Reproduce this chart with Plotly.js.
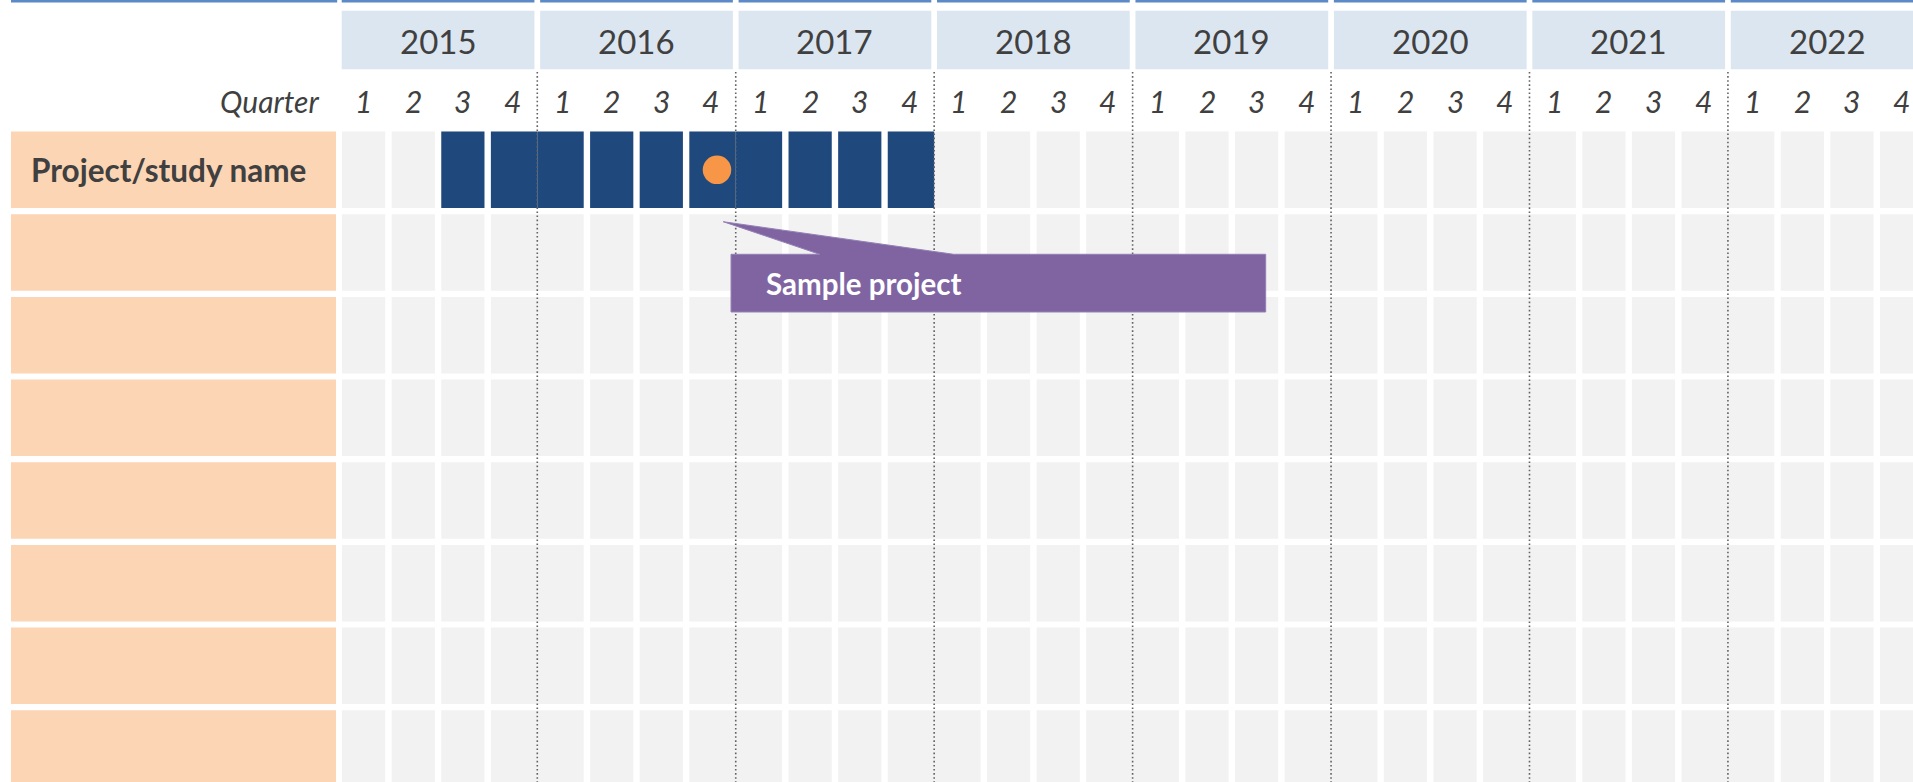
<!DOCTYPE html>
<html><head><meta charset="utf-8">
<script src="https://cdn.plot.ly/plotly-3.0.1.min.js"></script>
<style>html,body{margin:0;padding:0;background:#fff;overflow:hidden}#chart{width:1913px;height:782px}</style>
</head><body><div id="chart"></div>
<script>
// ---------- data ----------
const years = [2015, 2016, 2017, 2018, 2019, 2020, 2021, 2022];
const quarterLabels = ['1', '2', '3', '4'];
const quarterHeader = 'Quarter';
const rowLabels = ['Project/study name', '', '', '', '', '', '', ''];
const taskRows = [0];
const taskStart = ['2015-Q3'];
const taskEnd = ['2017-Q4'];
const milestoneRows = [0];
const milestoneDates = ['2016-11-27'];
const milestoneLabels = ['Sample project'];

// ---------- layout constants ----------
const W = 1913, H = 782;
const X0 = 338.85, P = 49.61;   // px of first quarter boundary, px per quarter
const Y0 = 169.8, RP = 82.67;   // px of first row centre, px per row
const xd = px => (px - X0) / P;
const yd = py => (py - Y0) / RP;
const HG = 3.2 / P;             // half white gap between quarter cells
const HH = 38.25 / RP;          // half row height
const TXT = '#404040';
const FONT = 'Lato';

const nQ = years.length * 4;
const qIndex = s => { const [y, q] = s.split('-Q'); return (+y - years[0]) * 4 + (+q - 1); };
const dateToQ = s => { const [y, m, d] = s.split('-').map(Number); return (y - years[0]) * 4 + (m - 1) / 3 + (d - 1) / 90; };

function cellSpan(q) {
  const left = q + ((q % 4 === 0 && q > 0) ? 0 : HG);
  const right = q + 1 - ((q % 4 === 3) ? 0 : HG);
  return [left, right];
}

// grey grid cells
const gx = [], gw = [], gb = [], gy = [];
rowLabels.forEach((_, r) => {
  for (let q = 0; q < nQ; q++) {
    const [a, b] = cellSpan(q);
    gx.push((a + b) / 2); gw.push(b - a); gb.push(r - HH); gy.push(2 * HH);
  }
});

// task cells
const tx = [], tw = [], tb = [], ty = [];
taskRows.forEach((r, i) => {
  for (let q = qIndex(taskStart[i]); q <= qIndex(taskEnd[i]); q++) {
    const [a, b] = cellSpan(q);
    tx.push((a + b) / 2); tw.push(b - a); tb.push(r - HH); ty.push(2 * HH);
  }
});

// label column
const lxL = xd(11), lxR = xd(336);
const px_ = rowLabels.map(() => (lxL + lxR) / 2);
const pw_ = rowLabels.map(() => lxR - lxL);
const pb_ = rowLabels.map((_, r) => r - HH);
const py_ = rowLabels.map(() => 2 * HH);

// year header boxes
const YG = 2.85 / P;
const yTop = yd(10.7), yBot = yd(69.3);
const yhx = years.map((_, i) => i * 4 + 2);
const yhw = years.map(() => 4 - 2 * YG);
const yhb = years.map(() => yTop);
const yhy = years.map(() => yBot - yTop);

// top blue rule segments
const lineY = yd(1.2);
const tlx = [lxL, xd(337.2), null], tly = [lineY, lineY, null];
years.forEach((_, i) => { tlx.push(i * 4 + YG, i * 4 + 4 - YG, null); tly.push(lineY, lineY, null); });

// dotted year dividers
const dvx = [], dvy = [];
years.forEach((_, i) => { if (i > 0) { dvx.push(i * 4, i * 4, null); dvy.push(yd(72), yd(H + 5), null); } });

const noHover = { hoverinfo: 'skip', showlegend: false };
const traces = [
  Object.assign({ type: 'bar', x: px_, width: pw_, base: pb_, y: py_, marker: { color: '#FCD5B4', line: { width: 0 } } }, noHover),
  Object.assign({ type: 'bar', x: yhx, width: yhw, base: yhb, y: yhy, marker: { color: '#DCE6F1', line: { width: 0 } } }, noHover),
  Object.assign({ type: 'bar', x: gx, width: gw, base: gb, y: gy, marker: { color: '#F2F2F2', line: { width: 0 } } }, noHover),
  Object.assign({ type: 'bar', x: tx, width: tw, base: tb, y: ty, marker: { color: '#1F497D', line: { width: 0 } } }, noHover),
  Object.assign({ type: 'scatter', mode: 'lines', x: tlx, y: tly, line: { color: '#5B8AC6', width: 2.6 } }, noHover),
  Object.assign({ type: 'scatter', mode: 'lines', x: dvx, y: dvy, line: { color: '#626262', width: 1.6, dash: '1.6px,2.5px' } }, noHover),
  Object.assign({ type: 'scatter', mode: 'markers', x: milestoneDates.map(dateToQ), y: milestoneRows,
    marker: { size: 28.5, color: '#F79646', line: { width: 0 } } }, noHover)
];

const annotations = [];
years.forEach((y, i) => annotations.push({ x: i * 4 + 2, y: yd(40.5), xref: 'x', yref: 'y', text: String(y), showarrow: false,
  font: { family: FONT, size: 33, color: TXT }, xanchor: 'center', yanchor: 'middle' }));
for (let q = 0; q < nQ; q++) annotations.push({ x: q + 0.5, y: yd(100.5), xref: 'x', yref: 'y', text: quarterLabels[q % 4], showarrow: false,
  font: { family: FONT, size: 30, color: TXT, style: 'italic' }, xanchor: 'center', yanchor: 'middle' });
annotations.push({ x: xd(321), y: yd(100.5), xref: 'x', yref: 'y', text: quarterHeader, showarrow: false,
  font: { family: FONT, size: 30, color: TXT, style: 'italic' }, xanchor: 'right', yanchor: 'middle' });
rowLabels.forEach((t, r) => { if (t) annotations.push({ x: xd(29), y: r, xref: 'x', yref: 'y', text: '<b>' + t + '</b>', showarrow: false,
  font: { family: FONT, size: 31.5, color: TXT }, xanchor: 'left', yanchor: 'middle' }); });

// callouts for milestones
const shapes = [];
milestoneDates.forEach((d, i) => {
  const mx = dateToQ(d), r = milestoneRows[i];
  const tip = [mx + 0.127, r + 0.628];
  const L = mx + 0.283, R = mx + 11.06, T = r + 1.022, B = r + 1.720;
  const bL = mx + 2.07, bR = mx + 4.77;
  shapes.push({ type: 'path', xref: 'x', yref: 'y', layer: 'above',
    path: `M ${L} ${T} L ${bL} ${T} L ${tip[0]} ${tip[1]} L ${bR} ${T} L ${R} ${T} L ${R} ${B} L ${L} ${B} Z`,
    fillcolor: '#8064A2', line: { color: '#9480B4', width: 1 } });
  annotations.push({ x: mx + 0.95, y: r + 1.37, xref: 'x', yref: 'y', text: '<b>' + milestoneLabels[i] + '</b>', showarrow: false,
    font: { family: FONT, size: 29.5, color: '#FFFFFF' }, xanchor: 'left', yanchor: 'middle' });
});

const axisBase = { showgrid: false, zeroline: false, showticklabels: false, showline: false, ticks: '', fixedrange: true };
const layout = {
  width: W, height: H, margin: { l: 0, r: 0, t: 0, b: 0, pad: 0 },
  paper_bgcolor: '#FFFFFF', plot_bgcolor: '#FFFFFF',
  font: { family: FONT, color: TXT },
  barmode: 'overlay', showlegend: false,
  xaxis: Object.assign({ range: [xd(0), xd(W)] }, axisBase),
  yaxis: Object.assign({ range: [yd(H), yd(0)] }, axisBase),
  annotations, shapes
};
Plotly.newPlot('chart', traces, layout, { displayModeBar: false, staticPlot: true });
</script></body></html>
